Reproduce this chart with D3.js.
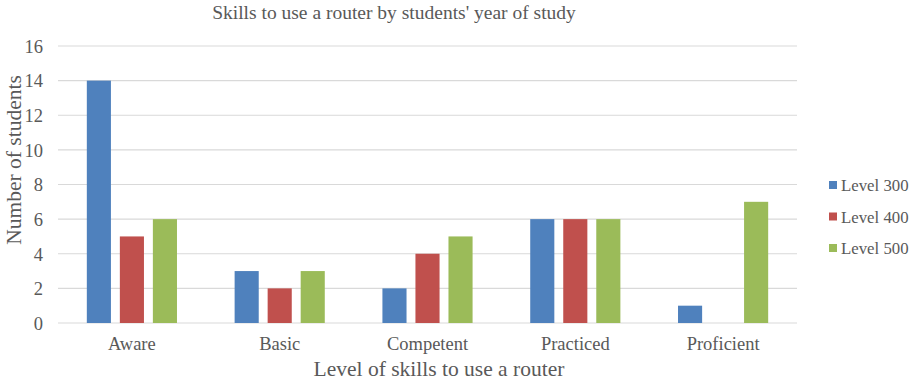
<!DOCTYPE html>
<html><head><meta charset="utf-8">
<script src="https://cdn.jsdelivr.net/npm/d3@7"></script>
<style>body{margin:0;background:#fff}svg{display:block}text{font-family:"Liberation Serif","Times New Roman",serif;fill:#595959}</style>
</head><body><svg id="c" width="913" height="380"></svg>
<script>
const categories = ["Aware","Basic","Competent","Practiced","Proficient"];
const seriesNames = ["Level 300","Level 400","Level 500"];
const level300 = [14,3,2,6,1];
const level400 = [5,2,4,6,0];
const level500 = [6,3,5,6,7];
const yTicks = [0,2,4,6,8,10,12,14,16];
const colors = ["#4f81bd","#c0504d","#9bbb59"];
const series = [level300, level400, level500];

const svg = d3.select("#c");
const L = 58, R = 797, T = 46, B = 323;
const x0 = d3.scaleBand().domain(categories).range([L,R]);
const gw = x0.step()*0.61;
const x1 = d3.scaleBand().domain(d3.range(3)).range([0,gw]).paddingInner(0.27);
const y = d3.scaleLinear().domain([0,16]).range([B,T]);

svg.append("g").selectAll("line").data(yTicks).join("line")
  .attr("x1",L).attr("x2",R).attr("y1",d=>y(d)).attr("y2",d=>y(d))
  .attr("stroke","#d9d9d9").attr("stroke-width",1.2);

const yAxis = d3.axisLeft(y).tickValues(yTicks).tickSize(0).tickPadding(0);
const ga = svg.append("g").attr("transform",`translate(${L-15},0)`).call(yAxis)
  .attr("font-family",null).attr("font-size",null);
ga.select(".domain").remove();
ga.selectAll("text").attr("font-size",18.5).attr("fill","#595959").attr("dy","0.34em");

categories.forEach((c,i)=>{
  const gx = x0(c) + (x0.bandwidth()-gw)/2;
  series.forEach((s,j)=>{
    if (s[i] <= 0) return;
    svg.append("rect").attr("x",gx+x1(j)).attr("width",x1.bandwidth())
      .attr("y",y(s[i])).attr("height",y(0)-y(s[i])).attr("fill",colors[j]);
  });
});

const xAxis = d3.axisBottom(x0).tickSize(0).tickPadding(0);
const gx = svg.append("g").attr("transform",`translate(0,${B+27})`).call(xAxis)
  .attr("font-family",null).attr("font-size",null);
gx.select(".domain").remove();
gx.selectAll("text").attr("font-size",18.5).attr("fill","#595959").attr("dy",0);

svg.append("text").attr("x",394).attr("y",19).attr("text-anchor","middle").attr("font-size",19.5).text("Skills to use a router by students' year of study");
svg.append("text").attr("x",439).attr("y",376).attr("text-anchor","middle").attr("font-size",21.5).text("Level of skills to use a router");
svg.append("text").attr("transform","translate(21,160) rotate(-90)").attr("text-anchor","middle").attr("font-size",21.5).text("Number of students");

const lg = svg.append("g");
seriesNames.forEach((n,j)=>{
  const yy = 185 + j*31.5;
  lg.append("rect").attr("x",829).attr("y",yy-4).attr("width",8).attr("height",8).attr("fill",colors[j]);
  lg.append("text").attr("x",841).attr("y",yy+6).attr("font-size",16.8).text(n);
});
</script></body></html>
